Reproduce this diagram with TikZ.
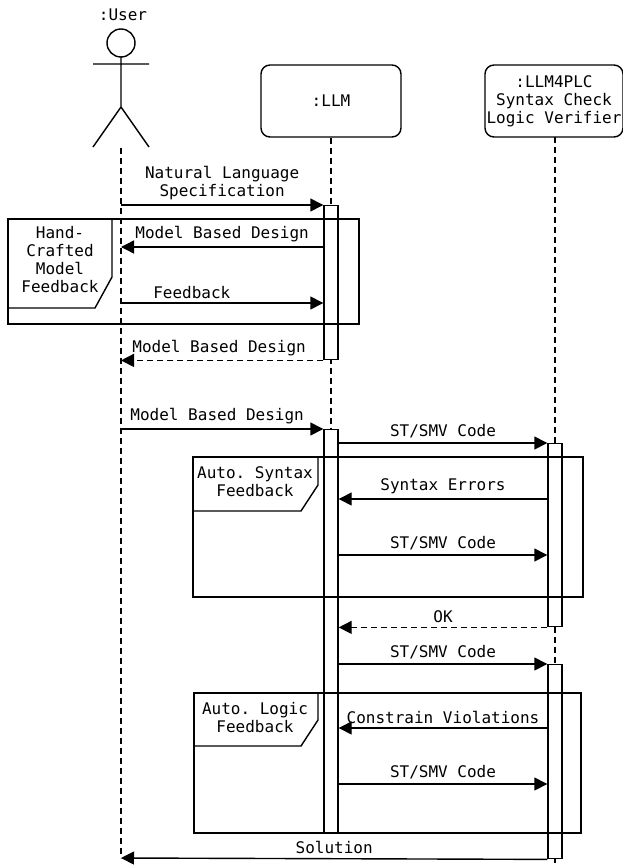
\documentclass[tikz,border=0pt]{standalone}
\usepackage{fontspec}
\setmonofont{DejaVu Sans Mono}
\usetikzlibrary{arrows.meta,positioning}

\begin{document}
\begin{tikzpicture}[x=1pt,y=-1pt,line width=1.4pt,
    font=\ttfamily\fontsize{16}{18}\selectfont,
    obj/.style={draw,rounded corners=9pt,minimum height=72pt,align=center,inner sep=1pt},
    bar/.style={draw,fill=white,minimum width=14pt,inner sep=0pt,anchor=north},
    msg/.style={-{Triangle[length=13pt,width=13pt]}},
    ret/.style={msg,dash pattern=on 6pt off 4pt},
    life/.style={dash pattern=on 6pt off 4pt},
    lbl/.style={above,align=center,inner sep=4pt}]
    \useasboundingbox (0,0) rectangle (623,867);

    % actor
    \node (userlbl) at (123,15) {:User};
    \draw (121,43) circle (14pt);
    \draw (121,57) -- (121,107) (93,64) -- (149,64)
        (93,147) -- (121,107) -- (149,147);
    \coordinate (user) at (121,148);
    \coordinate (userend) at (121,858);

    % objects
    \node[obj,minimum width=140pt] (llm) at (331,101) {:LLM};
    \node[obj,minimum width=138pt] (plc) at (554,101) {:LLM4PLC\\Syntax Check\\Logic Verifier};

    % lifelines
    \draw[life] (user) -- (userend);
    \draw[life] (llm.south) -- ++(0,696);
    \draw[life] (555,137) -- (555,867);

    % activations
    \node[bar,minimum height=154pt] (llm1) at (331,205) {};
    \node[bar,minimum height=404pt] (llm2) at (331,429) {};
    \node[bar,minimum height=183pt] (plc1) at (555,443) {};
    \node[bar,minimum height=194pt] (plc2) at (555,664) {};

    % messages
    \draw[msg] (user |- llm1.north) -- (llm1.north west)
        node[lbl,midway] {Natural Language\\Specification};
    \draw[msg] (llm1.west |- 0,247) -- (user |- 0,247)
        node[lbl,midway] {Model Based Design};
    \draw[msg] (user |- 0,303) -- (llm1.west |- 0,303)
        node[lbl,pos=0.35] {Feedback};
    \draw[ret] (llm1.south west) -- (user |- llm1.south)
        node[lbl,midway,xshift=-3pt] {Model Based Design};
    \draw[msg] (user |- llm2.north) -- (llm2.north west)
        node[lbl,midway,xshift=-5pt] {Model Based Design};
    \draw[msg] (llm2.east |- plc1.north) -- (plc1.north west)
        node[lbl,midway] {ST/SMV Code};
    \draw[msg] (plc1.west |- 0,499) -- (llm2.east |- 0,499)
        node[lbl,midway] {Syntax Errors};
    \draw[msg] (llm2.east |- 0,555) -- (plc1.west |- 0,555)
        node[lbl,midway] {ST/SMV Code};
    \draw[ret] (plc1.south west) -- (llm2.east |- plc1.south)
        node[lbl,midway] {OK};
    \draw[msg] (llm2.east |- plc2.north) -- (plc2.north west)
        node[lbl,midway] {ST/SMV Code};
    \draw[msg] (plc2.west |- 0,728) -- (llm2.east |- 0,728)
        node[lbl,midway] {Constrain Violations};
    \draw[msg] (llm2.east |- 0,784) -- (plc2.west |- 0,784)
        node[lbl,midway] {ST/SMV Code};
    \draw[msg] (plc2.south west) -- (userend)
        node[lbl,midway] {Solution};

    % frames
    \draw (8,219) rectangle (359,324);
    \draw (112,219) -- (112,277) -- (95,308) -- (8,308);
    \node[align=center] (hand) at (60,260) {Hand-\\Crafted\\Model\\Feedback};
    \draw (193,457) rectangle (583,597);
    \draw (318,457) -- (318,485) -- (301,511) -- (193,511);
    \node[align=center] (syn) at (255,482) {Auto. Syntax\\Feedback};
    \draw (194,693) rectangle (581,833);
    \draw (318,693) -- (318,720) -- (301,746) -- (194,746);
    \node[align=center] (logic) at (255,718) {Auto. Logic\\Feedback};
\end{tikzpicture}
\end{document}
